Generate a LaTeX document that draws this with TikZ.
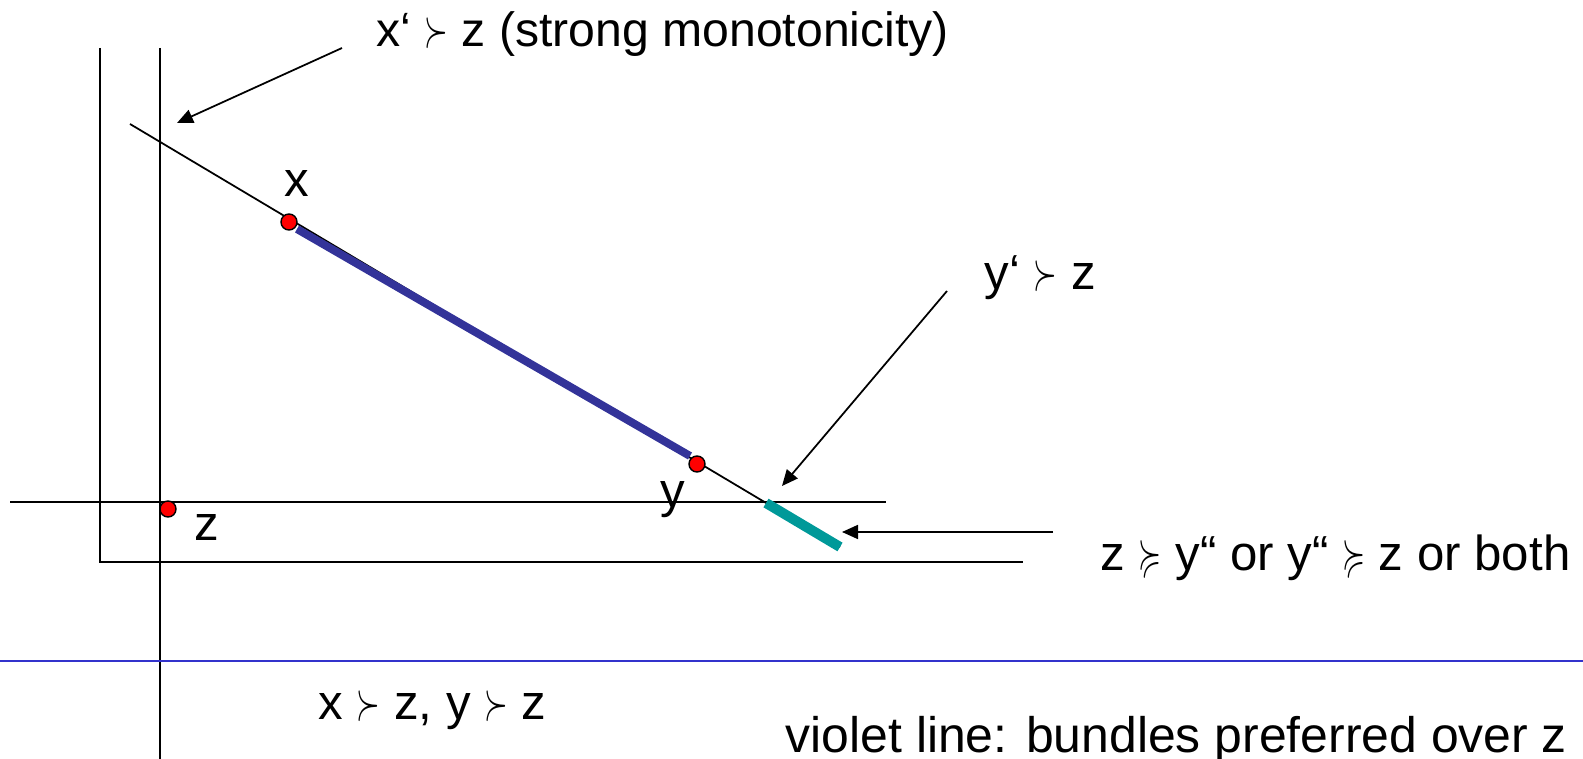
\documentclass[tikz,border=0pt]{standalone}
\usepackage{fontspec}
\setmainfont{Liberation Sans}
\usepackage{amssymb}
\usepackage{graphicx}
\usetikzlibrary{arrows.meta}
\definecolor{violetline}{HTML}{333399}
\definecolor{tealline}{HTML}{009999}
\definecolor{ruleblue}{HTML}{3333CC}
\newcommand{\pref}{\scalebox{0.6}[1.05]{$\succ$}}
\newcommand{\prefeq}{\scalebox{0.6}[1.05]{$\succcurlyeq$}}

\begin{document}
\begin{tikzpicture}[x=0.1mm, y=-0.1mm,
    axis/.style={line width=0.5pt},
    lbl/.style={font=\fontsize{14}{16}\selectfont, inner sep=0pt},
    bundle/.style={circle, draw, fill=red, line width=0.4pt, minimum size=1.6mm, inner sep=0pt},
    arrow/.style={-{Triangle[length=1.6mm, width=1.4mm]}, line width=0.5pt}
]
    \useasboundingbox (0,0) rectangle (1583,759);

    % Achsen
    \draw[axis] (100,48) -- (100,562) -- (1023,562);
    \draw[axis] (160,48) -- (160,759);
    \draw[axis] (10,502) -- (886,502);

    % Budgetgerade
    \draw[axis] (130,124) -- (840,547);
    \draw[violetline, line width=0.8mm] (297,229) -- (690,456);
    \draw[tealline, line width=1mm] (766,503) -- (840,547);

    % Trennlinie
    \draw[ruleblue, line width=0.25mm] (0,661) -- (1583,661);

    % Güterbündel
    \node[bundle] (x) at (289,222) {};
    \node[bundle] (y) at (697,464) {};
    \node[bundle] (z) at (168,509) {};
    \node[lbl] (xlbl) at (297,184) {x};
    \node[lbl] (ylbl) at (673,500) {y};
    \node[lbl] (zlbl) at (207,528) {z};

    % Beschriftungen
    \node[lbl, anchor=west, font=\fontsize{13.7}{16}\selectfont] (strong) at (376,34) {x‘ \pref{} z (strong monotonicity)};
    \node[lbl, anchor=west] (yprime) at (984,278) {y‘ \pref{} z};
    \node[lbl, anchor=west] (both) at (1100,558) {z \prefeq{} y“ or y“ \prefeq{} z or both};
    \node[lbl, anchor=west] (xyz) at (318,710) {x \pref{} z, y \pref{} z};
    \node[lbl, anchor=west, font=\fontsize{14.2}{16}\selectfont] (violet) at (785,740) {violet line: bundles preferred over z};

    % Pfeile
    \coordinate (s1) at (342,48);
    \coordinate (t1) at (177,123);
    \coordinate (s2) at (947,291);
    \coordinate (t2) at (782,486);
    \coordinate (s3) at (1053,532);
    \coordinate (t3) at (842,532);
    \draw[arrow] (s1) -- (t1);
    \draw[arrow] (s2) -- (t2);
    \draw[arrow] (s3) -- (t3);
\end{tikzpicture}
\end{document}
